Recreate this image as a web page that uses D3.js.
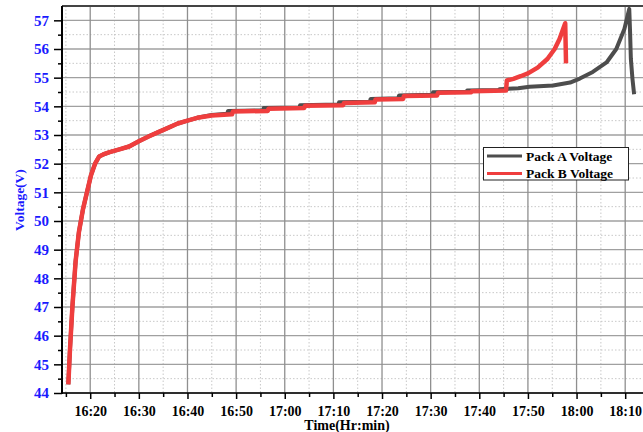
<!DOCTYPE html>
<html lang="en">
<head>
<meta charset="UTF-8">
<script src="https://d3js.org/d3.v7.min.js"></script>
<style>
body { margin: 0; background: white; }
svg { display: block; }
</style>
</head>
<body>
<div id="chart"></div>
<script>
// Pack B (red) readings: time, volts
var timeB = ["16:15:30","16:15:50","16:16:20","16:17:00","16:17:40","16:18:30","16:19:20","16:20:10","16:21:00","16:21:50",
  "16:22:40","16:24:00","16:26:00","16:28:00","16:30:00","16:32:00","16:34:00","16:36:00","16:38:00","16:40:00",
  "16:42:00","16:45:00","16:49:10","16:49:20","16:56:30","16:56:40","17:04:00","17:04:10","17:12:00","17:12:10",
  "17:18:30","17:18:40","17:24:20","17:24:30","17:31:20","17:31:30","17:38:20","17:38:30","17:45:30","17:45:40",
  "17:47:00","17:48:30","17:50:00","17:52:00","17:54:00","17:55:30","17:56:30","17:57:40","17:57:50"];
var voltB = [44.3,45.5,47.0,48.6,49.6,50.4,51.0,51.6,52.0,52.25,
  52.32,52.4,52.5,52.6,52.78,52.95,53.1,53.25,53.4,53.5,
  53.6,53.68,53.72,53.82,53.84,53.92,53.94,54.02,54.04,54.12,
  54.14,54.24,54.26,54.36,54.38,54.47,54.49,54.53,54.55,54.9,
  54.96,55.05,55.15,55.35,55.65,56.0,56.35,56.9,55.5];

// Pack A (grey) readings
var timeA = ["16:15:30","16:15:50","16:16:20","16:17:00","16:17:40","16:18:30","16:19:20","16:20:10","16:21:00","16:21:50",
  "16:22:40","16:24:00","16:26:00","16:28:00","16:30:00","16:32:00","16:34:00","16:36:00","16:38:00","16:40:00",
  "16:42:00","16:45:00","16:48:10","16:48:20","16:55:30","16:55:40","17:03:00","17:03:10","17:11:00","17:11:10",
  "17:17:30","17:17:40","17:23:20","17:23:30","17:30:20","17:30:30","17:37:20","17:37:30","17:44:00","17:44:10",
  "17:48:00","17:50:20","17:55:10","17:58:40","18:00:40","18:03:20","18:06:10","18:08:10","18:09:50","18:10:50",
  "18:11:00","18:11:10","18:11:30","18:11:50"];
var voltA = [44.3,45.5,47.0,48.6,49.6,50.4,51.0,51.6,52.0,52.25,
  52.32,52.4,52.5,52.6,52.78,52.95,53.1,53.25,53.4,53.5,
  53.6,53.7,53.74,53.84,53.86,53.94,53.96,54.04,54.06,54.14,
  54.16,54.26,54.28,54.38,54.4,54.49,54.51,54.55,54.57,54.6,
  54.63,54.68,54.73,54.83,54.97,55.2,55.53,56.0,56.7,57.4,
  56.6,55.65,54.95,54.42];

var yMajor = d3.range(44, 58, 1);
var yMinor = d3.range(44.5, 57.5, 1);
var xMajorLabels = ["16:20","16:30","16:40","16:50","17:00","17:10","17:20","17:30","17:40","17:50","18:00","18:10"];
var xMinorLabels = ["16:15","16:25","16:35","16:45","16:55","17:05","17:15","17:25","17:35","17:45","17:55","18:05","18:15"];
var seriesNames = ["Pack A Voltage", "Pack B Voltage"];
var seriesColors = ["#4d4d4d", "#ef3e3e"];

var W = 643, H = 432;
var serif = "'Liberation Serif', 'Times New Roman', serif";
var parseT = d3.timeParse("%H:%M:%S");
var parseHM = d3.timeParse("%H:%M");

var x = d3.scaleTime()
  .domain([parseT("16:14:12"), parseT("18:15:06")])
  .range([62, 650]);
var y = d3.scaleLinear().domain([44, 57.5]).range([393, 6]);

var svg = d3.select("#chart").append("svg").attr("width", W).attr("height", H)
  .attr("font-family", serif);

var xMaj = xMajorLabels.map(parseHM), xMin = xMinorLabels.map(parseHM);

// grid
var grid = svg.append("g");
grid.selectAll(".hmin").data(yMinor).enter().append("line")
  .attr("x1", 62).attr("x2", W).attr("y1", d => y(d)).attr("y2", d => y(d))
  .attr("stroke", "#c8c8c8").attr("stroke-dasharray", "1.5,2");
grid.selectAll(".vmin").data(xMin).enter().append("line")
  .attr("x1", d => x(d)).attr("x2", d => x(d)).attr("y1", 6).attr("y2", 393)
  .attr("stroke", "#c8c8c8").attr("stroke-dasharray", "1.5,2");
grid.selectAll(".hmaj").data(yMajor).enter().append("line")
  .attr("x1", 62).attr("x2", W).attr("y1", d => y(d)).attr("y2", d => y(d))
  .attr("stroke", "#a0a0a0").attr("stroke-width", 1.3);
grid.selectAll(".vmaj").data(xMaj).enter().append("line")
  .attr("x1", d => x(d)).attr("x2", d => x(d)).attr("y1", 6).attr("y2", 393)
  .attr("stroke", "#8f8f8f").attr("stroke-width", 1.3);

// top border
svg.append("line").attr("x1", 62).attr("x2", W).attr("y1", 6).attr("y2", 6)
  .attr("stroke", "#444").attr("stroke-width", 2);

// lines
var line = d3.line().x(d => x(d[0])).y(d => y(d[1]));
var dataA = timeA.map((t, i) => [parseT(t), voltA[i]]);
var dataB = timeB.map((t, i) => [parseT(t), voltB[i]]);
svg.append("path").datum(dataA).attr("d", line).attr("fill", "none")
  .attr("stroke", seriesColors[0]).attr("stroke-width", 4).attr("stroke-linejoin", "round");
svg.append("path").datum(dataB).attr("d", line).attr("fill", "none")
  .attr("stroke", seriesColors[1]).attr("stroke-width", 4.5).attr("stroke-linejoin", "round");

// axes
var gy = svg.append("g").attr("transform", "translate(62,0)")
  .call(d3.axisLeft(y).tickValues(yMajor).tickSize(8).tickPadding(5).tickFormat(d3.format("d")));
gy.attr("font-family", serif).attr("font-size", 15).attr("font-weight", "bold");
gy.selectAll("text").attr("fill", "#1a1aff");
svg.append("g").attr("transform", "translate(62,0)")
  .call(d3.axisLeft(y).tickValues(yMinor).tickSize(4).tickFormat(""))
  .call(g => g.select(".domain").remove());
gy.select(".domain").attr("stroke-width", 2).attr("d", "M0,6V394");

var gx = svg.append("g").attr("transform", "translate(0,393)")
  .call(d3.axisBottom(x).tickValues(xMaj).tickSize(6).tickPadding(7).tickFormat(d3.timeFormat("%H:%M")));
gx.attr("font-family", serif).attr("font-size", 14).attr("font-weight", "bold");
gx.selectAll("text").attr("fill", "#000");
svg.append("g").attr("transform", "translate(0,393)")
  .call(d3.axisBottom(x).tickValues(xMin).tickSize(4).tickFormat(""))
  .call(g => g.select(".domain").remove());
gx.select(".domain").attr("stroke-width", 1.5).attr("d", "M61,0H" + W);
svg.selectAll(".tick line").attr("stroke-width", 1.5);

// axis titles
svg.append("text").attr("x", 347).attr("y", 430).attr("text-anchor", "middle")
  .attr("font-weight", "bold").attr("font-size", 14).text("Time(Hr:min)");
svg.append("text").attr("transform", "translate(24,200) rotate(-90)").attr("text-anchor", "middle")
  .attr("font-weight", "bold").attr("font-size", 13.5).attr("fill", "#1a1aff").text("Voltage(V)");

// legend
var lg = svg.append("g");
lg.append("rect").attr("x", 483.5).attr("y", 147.5).attr("width", 145).attr("height", 32.5)
  .attr("fill", "white").attr("stroke", "#222").attr("stroke-width", 1);
seriesNames.forEach(function(n, i) {
  var yy = 156 + i * 17.5;
  lg.append("line").attr("x1", 487).attr("x2", 522).attr("y1", yy).attr("y2", yy)
    .attr("stroke", seriesColors[i]).attr("stroke-width", 3);
  lg.append("text").attr("x", 526).attr("y", yy + 4.5).attr("font-weight", "bold")
    .attr("font-size", 13.5).text(n);
});
</script>
</body>
</html>
